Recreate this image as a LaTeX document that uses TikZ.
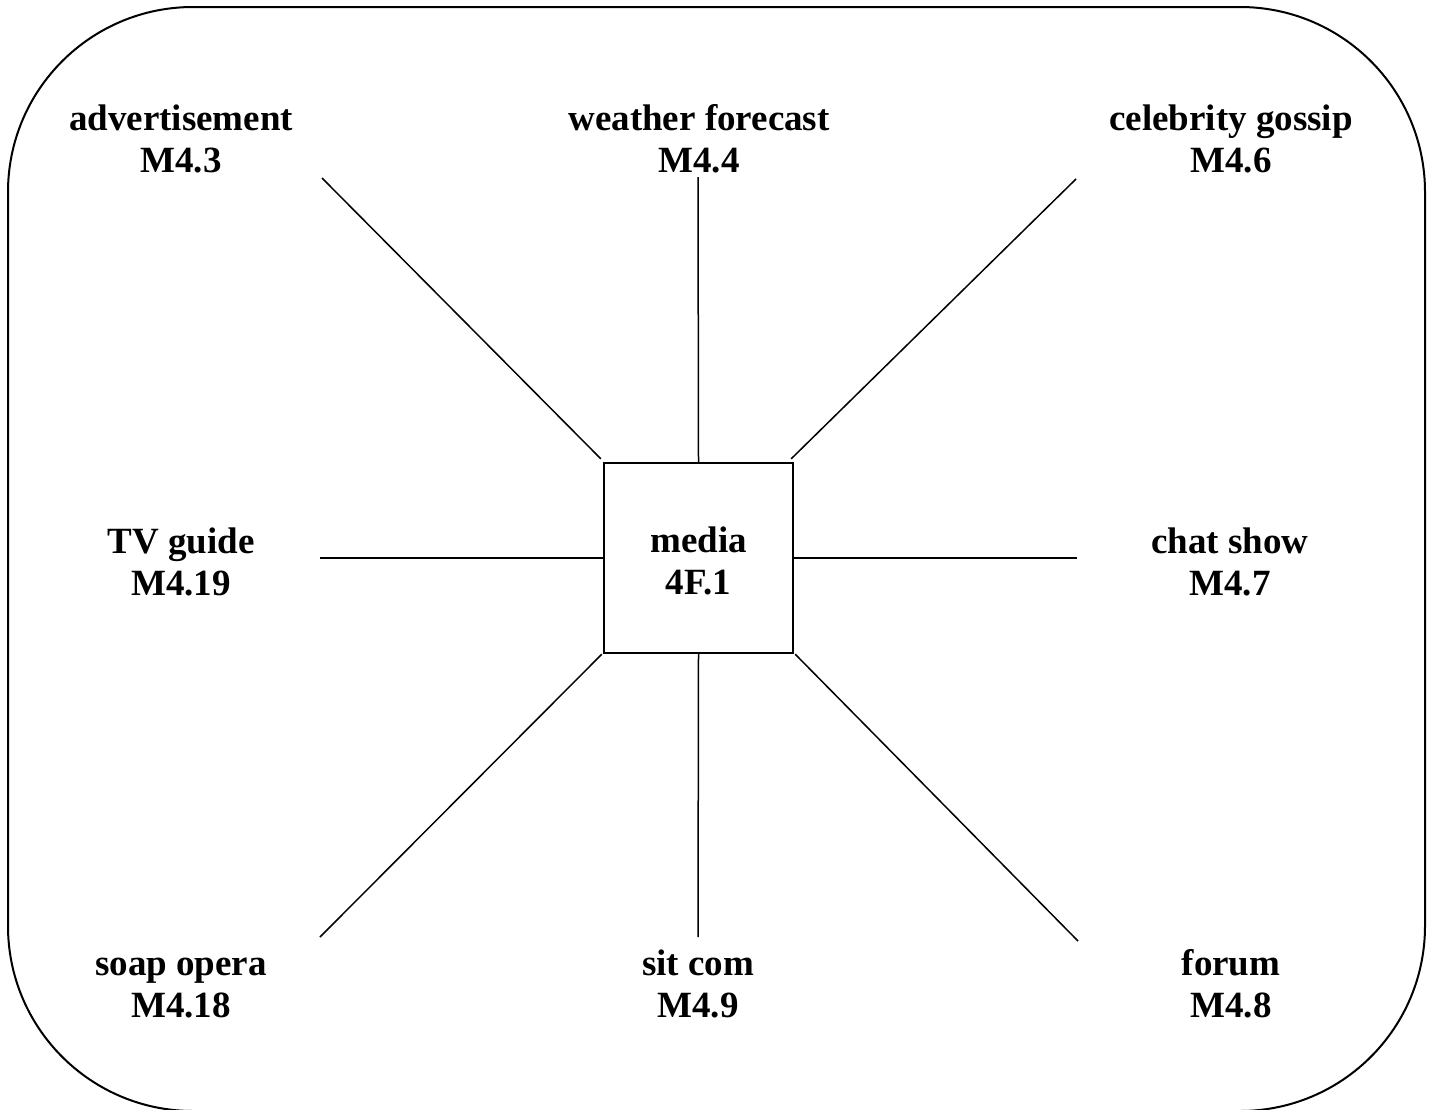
\documentclass[tikz,border=0pt]{standalone}
\usepackage{fontspec}
\setmainfont{Liberation Serif}
\usetikzlibrary{calc}
\begin{document}
\begin{tikzpicture}[x=1pt,y=-1pt,
  lbl/.style={align=center,inner sep=0pt,text height=68pt,text depth=0pt,font=\fontsize{37}{42}\selectfont\bfseries},
  hub/.style={draw,line width=2.4pt,minimum width=189pt,minimum height=190pt,inner sep=0pt,text height=73pt,text depth=0pt,align=center,font=\fontsize{37}{42}\selectfont\bfseries},
  spoke/.style={line width=1.5pt}]
\useasboundingbox (0,0) rectangle (1432,1109);
\begin{scope}
\clip (0,0) rectangle (1432,1109);
\draw[line width=2pt,rounded corners=185pt] (8,7) rectangle (1425,1111);
\end{scope}
\node[hub] (m) at (698.5,558) {media\\4F.1};
\node[lbl] (adv) at (181,138) {advertisement\\M4.3};
\node[lbl] (wf) at (699,138) {weather forecast\\M4.4};
\node[lbl] (cg) at (1231,138) {celebrity gossip\\M4.6};
\node[lbl] (tv) at (181,561) {TV guide\\M4.19};
\node[lbl] (cs) at (1230,561) {chat show\\M4.7};
\node[lbl] (so) at (181,983) {soap opera\\M4.18};
\node[lbl] (sc) at (698,983) {sit com\\M4.9};
\node[lbl] (fo) at (1231,983) {forum\\M4.8};
\coordinate (eadv) at (322,178);
\coordinate (ewf) at (698,177);
\coordinate (ecg) at (1076,179);
\coordinate (etv) at (320,558);
\coordinate (ecs) at (1077,558);
\coordinate (eso) at (320,937);
\coordinate (esc) at (698,937);
\coordinate (efo) at (1078,941);
\draw[spoke] (eadv) -- ($(m.north west)+(-2,-3)$);
\draw[spoke] (ewf) -- (m.north);
\draw[spoke] (ecg) -- ($(m.north east)+(-3,-3)$);
\draw[spoke] (etv) -- (m.west);
\draw[spoke] (ecs) -- (m.east);
\draw[spoke] (eso) -- ($(m.south west)+(-1,0)$);
\draw[spoke] (esc) -- (m.south);
\draw[spoke] (efo) -- ($(m.south east)+(1,0)$);
\end{tikzpicture}
\end{document}
